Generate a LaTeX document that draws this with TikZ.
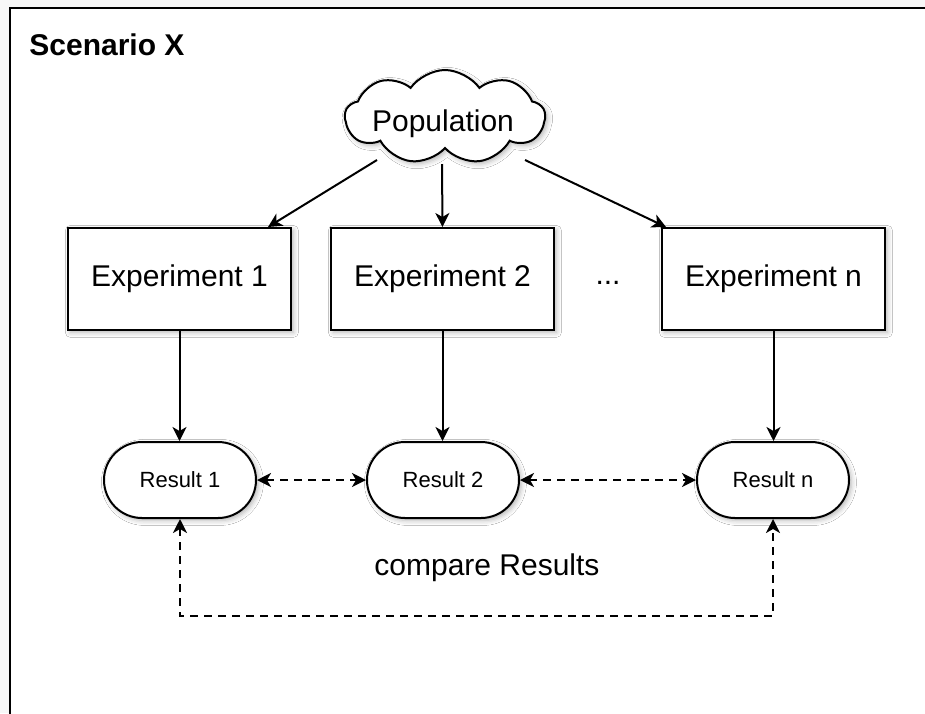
\documentclass[tikz,border=0pt]{standalone}
\usepackage{fontspec}
\setmainfont{Liberation Sans}
\usetikzlibrary{arrows.meta,shapes.symbols,shadows.blur,calc}
\begin{document}
\begin{tikzpicture}[x=0.5pt,y=-0.5pt,
  shad/.style={blur shadow={shadow xshift=1.2pt,shadow yshift=-1.2pt,shadow blur radius=2.5pt,shadow opacity=30}},
  expbox/.style={draw,line width=1pt,fill=white,minimum width=111.5pt,minimum height=51pt,inner sep=0pt,font=\fontsize{15}{18}\selectfont,shad},
  resbox/.style={draw,line width=1pt,fill=white,rounded corners=19pt,minimum width=76pt,minimum height=38pt,inner sep=0pt,font=\fontsize{11}{13}\selectfont,shad},
  popcloud/.style={cloud,draw,line width=1pt,fill=white,cloud puffs=9,cloud puff arc=110,aspect=2.2,minimum width=100pt,minimum height=47pt,inner sep=0pt,font=\fontsize{15}{18}\selectfont,shad},
  arr/.style={line width=1pt,-{Stealth[length=7pt,width=7pt,inset=2pt]}},
  darr/.style={line width=1pt,dash pattern=on 4pt off 3pt,{Stealth[length=7pt,width=7pt,inset=2pt]}-{Stealth[length=7pt,width=7pt,inset=2pt]}},
  lbl/.style={font=\fontsize{15}{18}\selectfont,inner sep=0pt}]
  % page and frame
  \useasboundingbox (0,0) rectangle (925,713);
  \fill[black!3] (0,0) rectangle (925,713);
  \begin{scope}
    \clip (0,0) rectangle (925,713);
    \draw[line width=1.3pt,fill=white] (10,8) rectangle (945,740);
  \end{scope}
  \node[lbl,anchor=base west,font=\fontsize{15}{18}\selectfont\bfseries] (title) at (29,55) {Scenario X};

  % population and experiments
  \node[popcloud] (pop) at (445,117) {};
  \node[lbl] (poptext) at (443,124) {Population};
  \node[expbox] (e1) at (179.5,279) {Experiment 1};
  \node[expbox] (e2) at (442.5,279) {Experiment 2};
  \node[expbox] (en) at (773.5,279) {Experiment n};
  \node[lbl] (dots) at (608,283) {...};

  % results
  \node[resbox] (r1) at (180,480) {Result 1};
  \node[resbox] (r2) at (443,480) {Result 2};
  \node[resbox] (rn) at (773,480) {Result n};
  \node[lbl] (cmp) at (487,568) {compare Results};

  % connectors
  \draw[arr] ($(pop.center)+(-68,43)$) -- ($(e1.north east)+(-24,0)$);
  \draw[arr] ($(pop.center)+(-3,47)$) -- (e2.north);
  \draw[arr] ($(pop.center)+(80,43)$) -- ($(en.north west)+(5,0)$);
  \draw[arr] (e1.south) -- (e1.south |- r1.north);
  \draw[arr] (e2.south) -- (e2.south |- r2.north);
  \draw[arr] (en.south) -- (en.south |- rn.north);
  \draw[darr] (r1.east) -- (r2.west);
  \draw[darr] (r2.east) -- (rn.west);
  \draw[darr] (r1.south) -- ++(0,97) -| (rn.south);
\end{tikzpicture}
\end{document}
